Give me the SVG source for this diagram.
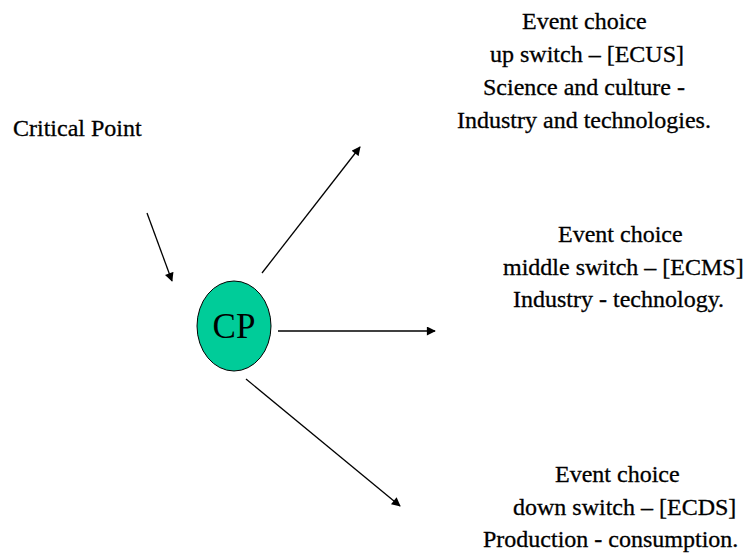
<svg xmlns="http://www.w3.org/2000/svg" width="750" height="557" viewBox="0 0 750 557">
<style>
  .lbl { font-size: 24px; }
  .cp { font-size: 35px; }
  .conn { stroke: #000; stroke-width: 1.3; fill: none; marker-end: url(#ah); }
</style>
<defs>
  <marker id="ah" viewBox="0 0 10 10" refX="9" refY="5" markerWidth="10" markerHeight="9" markerUnits="userSpaceOnUse" orient="auto">
    <path d="M0,0 L10,5 L0,10 z" fill="#000"/>
  </marker>
</defs>
<rect width="750" height="557" fill="#fff"/>
<g id="connectors">
  <line class="conn" x1="147" y1="213" x2="172" y2="281"/>
  <line class="conn" x1="262" y1="273" x2="360" y2="147"/>
  <line class="conn" x1="278" y1="331" x2="435" y2="331"/>
  <line class="conn" x1="246" y1="379" x2="400" y2="506"/>
</g>
<g font-family="Liberation Serif, serif" fill="#000" stroke="#000" stroke-width="0.3">
<g id="critical-point">
  <text class="lbl" x="13" y="136">Critical Point</text>
</g>
<g id="cp">
  <ellipse cx="234" cy="326" rx="37" ry="45" fill="#00CC99" stroke="#000" stroke-width="1"/>
  <text class="cp" x="234" y="338" text-anchor="middle" stroke="none">CP</text>
</g>
<g id="ecus">
  <text class="lbl" x="522" y="29">Event choice</text>
  <text class="lbl" x="490" y="62">up switch – [ECUS]</text>
  <text class="lbl" x="483" y="95">Science and culture -</text>
  <text class="lbl" x="457" y="128">Industry and technologies.</text>
</g>
<g id="ecms">
  <text class="lbl" x="558" y="242">Event choice</text>
  <text class="lbl" x="503" y="275">middle switch – [ECMS]</text>
  <text class="lbl" x="513" y="307">Industry - technology.</text>
</g>
<g id="ecds">
  <text class="lbl" x="555" y="482">Event choice</text>
  <text class="lbl" x="513" y="515">down switch – [ECDS]</text>
  <text class="lbl" x="483" y="547">Production - consumption.</text>
</g>
</g>
</svg>
